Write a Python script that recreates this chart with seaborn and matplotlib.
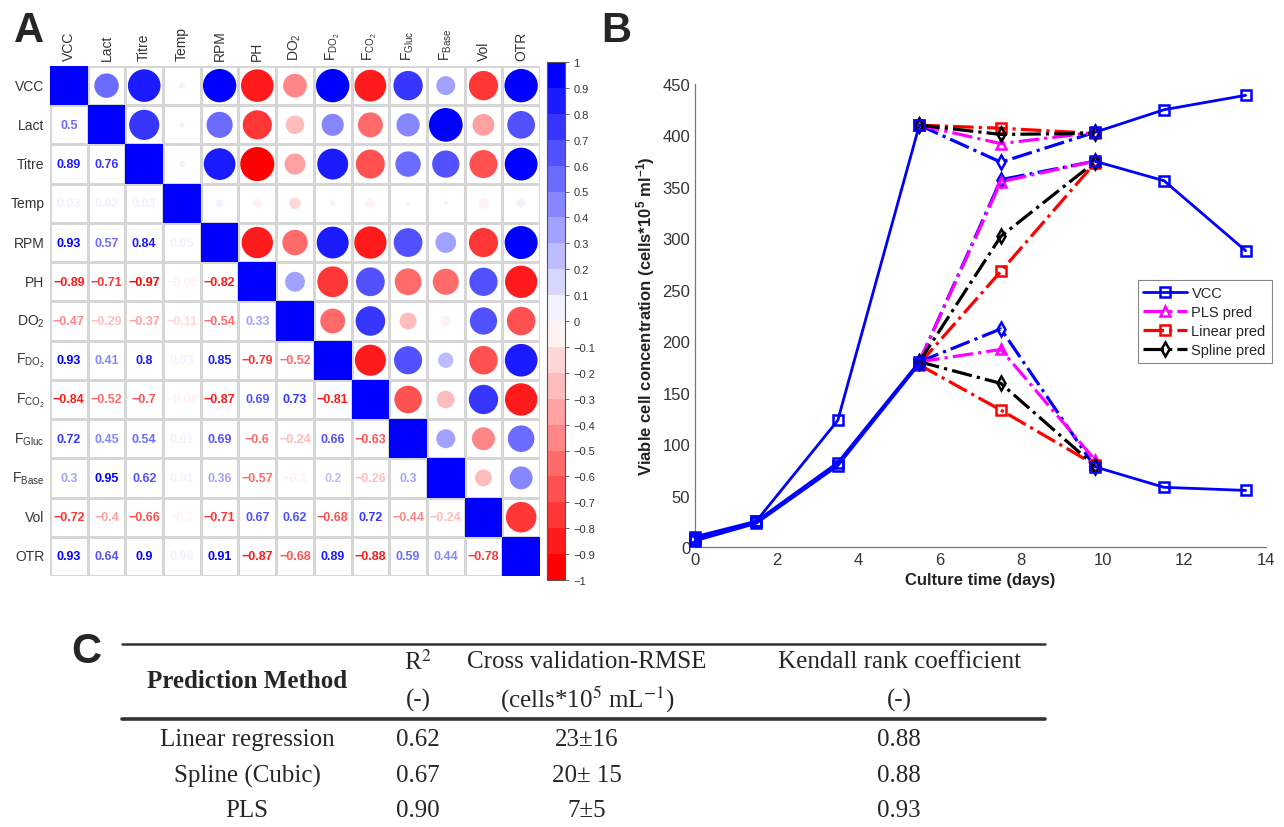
import numpy as np
import pandas as pd
import matplotlib
matplotlib.use("Agg")
import matplotlib as mpl
import matplotlib.pyplot as plt
import seaborn as sns
from matplotlib.colors import ListedColormap, BoundaryNorm, to_hex
from matplotlib.patches import Rectangle
from matplotlib.lines import Line2D

sns.set_style("white")
plt.rcParams["font.family"] = ["Liberation Sans", "DejaVu Sans"]
plt.rcParams["mathtext.fontset"] = "custom"
plt.rcParams["mathtext.rm"] = "Liberation Sans"
plt.rcParams["mathtext.it"] = "Liberation Sans:italic"
plt.rcParams["mathtext.bf"] = "Liberation Sans:bold"

# ---------------- Panel A data ----------------
variables = ["VCC", "Lact", "Titre", "Temp", "RPM", "PH", r"DO$_2$",
             r"F$_{\mathrm{DO_2}}$", r"F$_{\mathrm{CO_2}}$", r"F$_{\mathrm{Gluc}}$",
             r"F$_{\mathrm{Base}}$", "Vol", "OTR"]
row_lact = [0.5]
row_titre = [0.89, 0.76]
row_temp = [0.03, 0.02, 0.03]
row_rpm = [0.93, 0.57, 0.84, 0.05]
row_ph = [-0.89, -0.71, -0.97, -0.06, -0.82]
row_do2 = [-0.47, -0.29, -0.37, -0.11, -0.54, 0.33]
row_fdo2 = [0.93, 0.41, 0.8, 0.03, 0.85, -0.79, -0.52]
row_fco2 = [-0.84, -0.52, -0.7, -0.08, -0.87, 0.69, 0.73, -0.81]
row_fgluc = [0.72, 0.45, 0.54, 0.01, 0.69, -0.6, -0.24, 0.66, -0.63]
row_fbase = [0.3, 0.95, 0.62, 0.01, 0.36, -0.57, -0.1, 0.2, -0.26, 0.3]
row_vol = [-0.72, -0.4, -0.66, -0.1, -0.71, 0.67, 0.62, -0.68, 0.72, -0.44, -0.24]
row_otr = [0.93, 0.64, 0.9, 0.06, 0.91, -0.87, -0.68, 0.89, -0.88, 0.59, 0.44, -0.78]
lower_rows = [[], row_lact, row_titre, row_temp, row_rpm, row_ph, row_do2, row_fdo2,
              row_fco2, row_fgluc, row_fbase, row_vol, row_otr]
cbar_ticks = [-1, -0.9, -0.8, -0.7, -0.6, -0.5, -0.4, -0.3, -0.2, -0.1, 0,
              0.1, 0.2, 0.3, 0.4, 0.5, 0.6, 0.7, 0.8, 0.9, 1]

# ---------------- Panel B data ----------------
days = [0, 1.5, 3.5, 5.5, 7.5, 9.8, 11.5, 13.5]
vcc_run1 = [10, 25, 123, 410, np.nan, 403, 425, 439]
vcc_run2 = [8, 25, 82, 180, np.nan, 375, 356, 288]
vcc_run3 = [6, 23, 79, 178, np.nan, 78, 58, 55]
pred_days = [5.5, 7.5, 9.8]
meas_run1 = [410, 374, 403]
meas_run2 = [180, 357, 375]
meas_run3 = [180, 212, 78]
pls_run1 = [410, 392, 403]
pls_run2 = [180, 355, 375]
pls_run3 = [180, 192, 85]
lin_run1 = [410, 407, 402]
lin_run2 = [178, 268, 373]
lin_run3 = [177, 133, 80]
spl_run1 = [410, 401, 402]
spl_run2 = [180, 302, 374]
spl_run3 = [180, 159, 79]
x_ticks = [0, 2, 4, 6, 8, 10, 12, 14]
y_ticks = [0, 50, 100, 150, 200, 250, 300, 350, 400, 450]

# ---------------- Panel C data ----------------
table_methods = ["Linear regression", "Spline (Cubic)", "PLS"]
table_r2 = ["0.62", "0.67", "0.90"]
table_rmse = ["23\u00b116", "20\u00b1 15", "7\u00b15"]
table_kendall = ["0.88", "0.88", "0.93"]
table_head1 = ["R$^2$", "Cross validation-RMSE", "Kendall rank coefficient"]
table_head2 = ["(-)", "(cells*10$^5$ mL$^{-1}$)", "(-)"]

W, H = 1284, 828
fig = plt.figure(figsize=(W / 100, H / 100), dpi=100)

# palette like corrplot red-white-blue (20 colours)
def ramp(t):
    if t <= 0.5:
        u = t / 0.5
        return (1.0, u, u)
    u = (t - 0.5) / 0.5
    return (1 - u, 1 - u, 1.0)

palette = [to_hex(ramp(i / 19)) for i in range(20)]

def col_for(r):
    idx = int(np.floor((r + 1) * 10 + 1e-9))
    return palette[min(max(idx, 0), 19)]

def fmt(r):
    s = f"{abs(r):.2f}".rstrip("0").rstrip(".")
    return ("\u2212" if r < 0 else "") + s

n = len(variables)
corr = np.eye(n)
for i, row in enumerate(lower_rows):
    for j, v in enumerate(row):
        corr[i, j] = v
        corr[j, i] = v

ax_a = fig.add_axes([50 / W, 1 - 577 / H, 490 / W, 510 / H])
sns.heatmap(np.zeros((n, n)), ax=ax_a, cmap=ListedColormap(["white"]), cbar=False,
            linewidths=1.0, linecolor="#d6d6d6", xticklabels=variables,
            yticklabels=variables)

# diagonal squares
for i in range(n):
    ax_a.add_patch(Rectangle((i, i), 1, 1, facecolor=col_for(corr[i, i]),
                             edgecolor="none", zorder=3))

# upper circles
up = [dict(x=j + 0.5, y=i + 0.5, a=abs(corr[i, j]), c=col_for(corr[i, j]))
      for i in range(n) for j in range(n) if j > i]
df_up = pd.DataFrame(up)
sns.scatterplot(data=df_up, x="x", y="y", size="a", sizes=(0, 620), size_norm=(0, 1),
                hue="c", palette={c: c for c in df_up["c"].unique()}, legend=False,
                edgecolor="none", linewidth=0, ax=ax_a, zorder=4)

# lower numbers
for i in range(n):
    for j in range(i):
        ax_a.text(j + 0.5, i + 0.5, fmt(corr[i, j]), color=col_for(corr[i, j]),
                  ha="center", va="center", fontsize=9, fontweight="bold", zorder=4)

ax_a.set_xlim(0, n)
ax_a.set_ylim(n, 0)
ax_a.set_xlabel("")
ax_a.set_ylabel("")
ax_a.xaxis.tick_top()
ax_a.set_xticklabels(variables, rotation=90, fontsize=10, color="#333333")
ax_a.set_yticklabels(variables, rotation=0, fontsize=10, color="#333333")
ax_a.tick_params(length=0, pad=4)

# colour bar
ax_cb = fig.add_axes([547 / W, 1 - 581 / H, 18 / W, 518 / H])
cb = mpl.colorbar.ColorbarBase(ax_cb, cmap=ListedColormap(palette),
                               norm=BoundaryNorm(np.linspace(-1, 1, 21), 20),
                               ticks=cbar_ticks, orientation="vertical")
cb.ax.set_yticklabels([fmt(t) if t != 0 else "0" for t in cbar_ticks],
                      fontsize=8, color="#333333")
cb.ax.tick_params(length=3, width=0.6, color="#555555", pad=3)
cb.outline.set_edgecolor("#555555")
cb.outline.set_linewidth(0.8)

# ---------------- Panel B ----------------
ax_b = fig.add_axes([695 / W, 1 - 548 / H, 571 / W, 463 / H])

def draw(xs, runs, color, ls, marker, ms, lw, zo):
    rows = []
    for r_i, ys in enumerate(runs):
        seg = 0
        for x, y in zip(xs, ys):
            if np.isnan(y):
                seg += 1
                continue
            rows.append(dict(x=x, y=y, u=f"{r_i}_{seg}"))
    df = pd.DataFrame(rows)
    sns.lineplot(data=df, x="x", y="y", units="u", estimator=None, sort=False,
                 color=color, linestyle=ls, lw=lw, marker=marker, markersize=ms,
                 markerfacecolor="none", markeredgecolor=color, markeredgewidth=1.8,
                 ax=ax_b, legend=False, clip_on=False, zorder=zo)

draw(days, [vcc_run1, vcc_run2, vcc_run3], "#0000ff", "-", "s", 6.5, 2.0, 5)
draw(pred_days, [meas_run1, meas_run2, meas_run3], "#0000ff", "-.", "d", 7.5, 2.3, 3)
draw(pred_days, [pls_run1, pls_run2, pls_run3], "#ff00ff", "-.", "^", 7.5, 2.3, 4)
draw(pred_days, [lin_run1, lin_run2, lin_run3], "#ff0000", "-.", "s", 6.5, 2.3, 4)
draw(pred_days, [spl_run1, spl_run2, spl_run3], "#000000", "-.", "d", 7.5, 2.3, 4)

ax_b.set_xlim(0, 14)
ax_b.set_ylim(0, 450)
ax_b.set_xticks(x_ticks)
ax_b.set_yticks(y_ticks)
ax_b.tick_params(direction="in", length=5, width=0.8, color="#666666",
                 labelsize=12, labelcolor="#333333")
for s in ["top", "right"]:
    ax_b.spines[s].set_visible(False)
for s in ["left", "bottom"]:
    ax_b.spines[s].set_color("#777777")
    ax_b.spines[s].set_linewidth(0.9)
ax_b.set_xlabel("Culture time (days)", fontsize=12, fontweight="bold", color="#222222")
ax_b.set_ylabel(r"Viable cell concentration (cells*10$^{\mathbf{5}}$ ml$^{\mathbf{-1}}$)",
                fontsize=12, fontweight="bold", color="#222222")

handles = [
    Line2D([], [], color="#0000ff", ls="-", lw=2, marker="s", ms=6.5, mfc="none", mew=1.8),
    Line2D([], [], color="#ff00ff", ls="-.", lw=2.3, marker="^", ms=7.5, mfc="none", mew=1.8),
    Line2D([], [], color="#ff0000", ls="-.", lw=2.3, marker="s", ms=6.5, mfc="none", mew=1.8),
    Line2D([], [], color="#000000", ls="-.", lw=2.3, marker="d", ms=7.5, mfc="none", mew=1.8),
]
leg = ax_b.legend(handles, ["VCC", "PLS pred", "Linear pred", "Spline pred"],
                  loc="upper left", bbox_to_anchor=(0.775, 0.577), fontsize=10.5,
                  frameon=True, fancybox=False, edgecolor="#888888", framealpha=1,
                  handlelength=3.0, borderpad=0.4, labelspacing=0.35, handletextpad=0.3,
                  borderaxespad=0)
leg.get_frame().set_linewidth(0.8)

# ---------------- Panel C (table) ----------------
ax_c = fig.add_axes([0, 0, 1, (H - 621) / H])
ax_c.set_xlim(0, W)
ax_c.set_ylim(H, 621)
ax_c.axis("off")
col_x = [247, 418, 587, 899]
ax_c.plot([122, 1045], [645, 645], color="#333333", lw=1.8)
ax_c.plot([122, 1045], [720, 720], color="#333333", lw=2.6)
serif = ["Liberation Serif", "DejaVu Serif"]
ax_c.text(col_x[0], 682, "Prediction Method", family=serif, fontsize=18,
          fontweight="bold", ha="center", va="center")
for k in range(3):
    ax_c.text(col_x[k + 1], 662, table_head1[k], family=serif, fontsize=18,
              ha="center", va="center", math_fontfamily="stix")
    ax_c.text(col_x[k + 1], 700, table_head2[k], family=serif, fontsize=18,
              ha="center", va="center", math_fontfamily="stix")
row_y = [740, 776, 811]
for r in range(3):
    vals = [table_methods[r], table_r2[r], table_rmse[r], table_kendall[r]]
    for k, v in enumerate(vals):
        ax_c.text(col_x[k], row_y[r], v, family=serif, fontsize=18,
                  ha="center", va="center")

# panel letters
fig.text(29 / W, 1 - 31 / H, "A", fontsize=30, fontweight="bold", ha="center", va="center")
fig.text(616 / W, 1 - 31 / H, "B", fontsize=30, fontweight="bold", ha="center", va="center")
fig.text(86 / W, 1 - 652 / H, "C", fontsize=30, fontweight="bold", ha="center", va="center")

fig.savefig("out.png", dpi=100)
